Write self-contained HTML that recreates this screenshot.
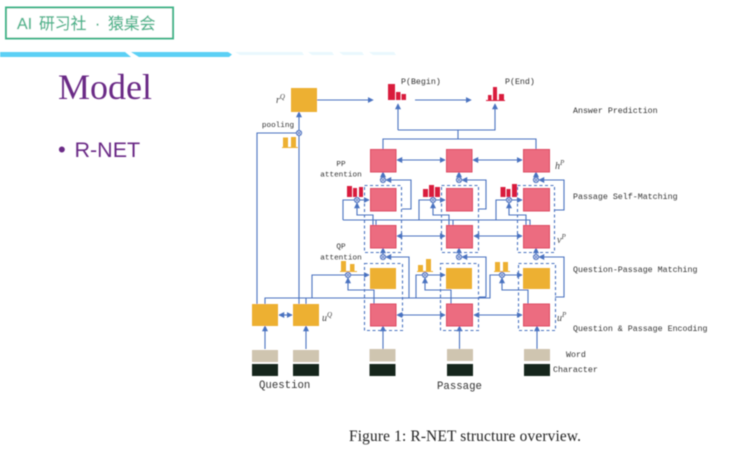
<!DOCTYPE html>
<html><head><meta charset="utf-8"><style>
html,body{margin:0;padding:0;background:#fff}
#p{position:relative;width:740px;height:451px;overflow:hidden;background:#fff}
svg{position:absolute;left:0;top:0}
</style></head><body><div id="p">
<svg width="740" height="451" viewBox="0 0 740 451" xmlns="http://www.w3.org/2000/svg">
<defs>
<marker id="a" viewBox="0 0 8 8" refX="7" refY="4" markerWidth="6" markerHeight="6" orient="auto-start-reverse" markerUnits="userSpaceOnUse"><path d="M0 0L8 4L0 8z" fill="#4a72c0"/></marker>
<filter id="b" filterUnits="userSpaceOnUse" x="0" y="0" width="740" height="451"><feGaussianBlur stdDeviation="0.4"/></filter>
<g id="c"><circle r="2.600" fill="#c6d2ee" stroke="#4a72c0" stroke-width="1"/><path d="M-1.700-1.700L1.700 1.700M-1.700 1.700L1.700-1.700" stroke="#4a72c0" stroke-width=".6"/></g>
</defs>
<g filter="url(#b)">
<!-- header -->
<rect x="6" y="7.500" width="167" height="31" fill="#fff" stroke="#3fb489" stroke-width="2"/>
<g font-family="'Liberation Sans','Noto Sans CJK SC',sans-serif" font-size="16" fill="#4cb58e" stroke="#4cb58e" stroke-width=".3">
<text x="17" y="29">AI</text>
</g>
<g font-family="'Liberation Sans','Noto Sans CJK SC',sans-serif" font-size="15.800" fill="#4cb58e" stroke="#4cb58e" stroke-width=".25">
<text x="39" y="29">研习社</text>
<text x="95" y="29">·</text>
<text x="108" y="29">猿桌会</text>
</g>
<polygon points="0,52 125,52 131,57 0,57" fill="#5bd0f5"/>
<polygon points="131,52 228,52 232,54.500 229,57 139,57" fill="#5bd0f5"/>
<polygon points="235,52 302,52 304,55 240,55" fill="#e9f8fd"/>
<polygon points="308,52 332,52 334,55 312,55" fill="#e9f8fd"/>
<polygon points="339,52 362,52 364,55 343,55" fill="#e9f8fd"/>
<polygon points="369,52 394,52 396,55 373,55" fill="#e9f8fd"/>
<text x="58" y="99" font-family="'Liberation Serif',serif" font-size="36" fill="#6b2a86">Model</text>
<text x="58" y="157" font-family="'Liberation Sans',sans-serif" font-size="22" fill="#6b2a86">•</text>
<text x="74.500" y="157" font-family="'Liberation Sans',sans-serif" font-size="21.500" fill="#6b2a86">R-NET</text>

<!-- connectors -->
<g fill="none" stroke="#4a72c0" stroke-width="1.100">
<path d="M317 100H373" marker-end="url(#a)"/>
<path d="M415 100H471" marker-end="url(#a)"/>
<path d="M398 130V104" marker-end="url(#a)"/>
<path d="M398 130H495V104" marker-end="url(#a)"/>
<path d="M458 130V139M383 149V139H536V149"/>
<path d="M299 304V112" marker-end="url(#a)"/>
<path d="M257 304V133H299"/>
<path d="M279 315H292" marker-start="url(#a)" marker-end="url(#a)"/>
<path d="M265 349V326" marker-end="url(#a)"/>
<path d="M306 349V326" marker-end="url(#a)"/>
<path d="M383 349V326" marker-end="url(#a)"/>
<path d="M459.500 349V326" marker-end="url(#a)"/>
<path d="M537 349V326" marker-end="url(#a)"/>
<!-- row arrows -->
<path d="M397 160H445" marker-start="url(#a)" marker-end="url(#a)"/>
<path d="M473 160H522" marker-start="url(#a)" marker-end="url(#a)"/>
<path d="M397 236H445" marker-start="url(#a)" marker-end="url(#a)"/>
<path d="M474 236H522" marker-start="url(#a)" marker-end="url(#a)"/>
<path d="M397 315H445" marker-start="url(#a)" marker-end="url(#a)"/>
<path d="M474 315H522" marker-start="url(#a)" marker-end="url(#a)"/>
<!-- vertical to circle -->
<path d="M383 178V172" marker-end="url(#a)"/><path d="M459 178V172" marker-end="url(#a)"/><path d="M536 178V172" marker-end="url(#a)"/>
<path d="M383 255V248" marker-end="url(#a)"/><path d="M459 255V248" marker-end="url(#a)"/><path d="M536 255V248" marker-end="url(#a)"/>
<!-- feedback upper -->
<path d="M402 209H411V180H386" marker-end="url(#a)"/>
<path d="M478 209H486V180H462" marker-end="url(#a)"/>
<path d="M555 210H564V180H539" marker-end="url(#a)"/>
<path d="M409 298V257H386" marker-end="url(#a)"/>
<path d="M402 298H409"/>
<path d="M486 297V257H462" marker-end="url(#a)"/>
<path d="M479 297H486"/>
<path d="M555 297H564V257H539" marker-end="url(#a)"/>
<!-- self-match rows -->
<path d="M343 220V200H369" marker-end="url(#a)"/>
<path d="M419 220V200H445" marker-end="url(#a)"/>
<path d="M496 220V200H522" marker-end="url(#a)"/>
<path d="M343 220H530V225M376 220V225M453 220V225"/>
<path d="M373 225V215H357V203" marker-end="url(#a)"/>
<path d="M449 225V215H433V203" marker-end="url(#a)"/>
<path d="M526 225V215H509V203" marker-end="url(#a)"/>
<!-- qp rows -->
<path d="M265 304V298H490V275H522" marker-end="url(#a)"/>
<path d="M306 304V298"/>
<path d="M312 298V275H369" marker-end="url(#a)"/>
<path d="M416 298V275H445" marker-end="url(#a)"/>
<path d="M374 304V290H348V278" marker-end="url(#a)"/>
<path d="M451 304V290H425V278" marker-end="url(#a)"/>
<path d="M528 304V290H502V278" marker-end="url(#a)"/>
</g>
<!-- dashed -->
<g fill="none" stroke="#4a72c0" stroke-width="1.100" stroke-dasharray="3 2.500">
<rect x="364.500" y="185.500" width="37" height="67"/>
<rect x="441.500" y="185.500" width="37" height="67"/>
<rect x="517.500" y="185.500" width="37" height="67"/>
<rect x="364.500" y="263.500" width="38" height="67"/>
<rect x="440.500" y="263.500" width="38" height="67"/>
<rect x="518.500" y="263.500" width="37" height="67"/>
</g>
<!-- yellow boxes -->
<g fill="#edb032">
<rect x="291" y="88" width="26" height="24"/>
<rect x="252" y="304" width="26" height="22"/>
<rect x="293" y="304" width="26" height="22"/>
<rect x="370" y="268" width="26" height="21"/>
<rect x="446" y="268" width="26" height="21"/>
<rect x="523" y="268" width="27" height="21"/>
</g>
<!-- pink boxes -->
<g fill="#ec6c80" stroke="#dd4a62" stroke-width="1">
<rect x="370.500" y="149.500" width="25.500" height="22.500"/>
<rect x="446.500" y="149.500" width="25.500" height="22.500"/>
<rect x="523.500" y="149.500" width="26" height="22.500"/>
<rect x="370.500" y="188.500" width="25.500" height="22.500"/>
<rect x="446.500" y="188.500" width="26" height="22.500"/>
<rect x="523.500" y="188.500" width="26" height="22.500"/>
<rect x="370.500" y="225.500" width="25.500" height="22.500"/>
<rect x="446.500" y="225.500" width="26" height="22.500"/>
<rect x="523.500" y="225.500" width="26" height="22.500"/>
<rect x="370.500" y="304" width="25.500" height="22"/>
<rect x="446.500" y="304" width="26" height="22"/>
<rect x="523.500" y="304" width="26" height="22"/>
</g>
<!-- word / char -->
<g fill="#cfc5b0">
<rect x="252" y="350" width="26" height="12"/><rect x="293" y="350" width="26" height="12"/>
<rect x="369.500" y="349" width="26" height="12.500"/><rect x="447" y="349" width="26" height="12"/><rect x="524" y="349" width="26" height="12"/>
</g>
<g fill="#16261f">
<rect x="252" y="364" width="26" height="12"/><rect x="293" y="364" width="26" height="12"/>
<rect x="369.500" y="364" width="26" height="12"/><rect x="447" y="364" width="26" height="12"/><rect x="524" y="364" width="26" height="12"/>
</g>
<!-- red bars -->
<g fill="#d91c3e">
<rect x="388" y="84" width="7" height="16"/><rect x="396" y="92" width="4.500" height="8"/><rect x="401.500" y="94" width="4.500" height="6"/>
<rect x="488" y="95" width="3.500" height="5"/><rect x="493" y="87" width="4" height="13"/><rect x="499" y="94" width="5" height="6"/>
<rect x="347" y="186" width="5" height="11"/><rect x="353" y="188" width="4" height="9"/><rect x="359" y="187" width="4" height="10"/>
<rect x="423" y="189" width="5" height="8"/><rect x="429" y="185" width="5" height="12"/><rect x="435" y="187" width="5" height="10"/>
<rect x="500.500" y="187" width="5" height="10"/><rect x="506.500" y="189" width="4" height="8"/><rect x="512" y="184" width="5" height="13"/>
</g>
<!-- yellow bars -->
<g fill="#edb032">
<rect x="283" y="137.500" width="5" height="10"/><rect x="291" y="137" width="5" height="10.500"/>
<rect x="341" y="261" width="5" height="10"/><rect x="350" y="264" width="4.500" height="7"/>
<rect x="418" y="265" width="5" height="6"/><rect x="426" y="259" width="5" height="12"/>
<rect x="495" y="262" width="5" height="9"/><rect x="503" y="262" width="5" height="9"/>
</g>
<g stroke="#edb032" stroke-width="1"><path d="M282 147.500H298M340 271.500H357M417 271.500H433M494 271.500H510"/></g>
<path d="M486 100.500H505" stroke="#d91c3e" stroke-width="1"/>
<!-- circles -->
<use href="#c" x="299" y="133"/>
<use href="#c" x="383" y="180"/><use href="#c" x="459" y="180"/><use href="#c" x="536" y="180"/>
<use href="#c" x="383" y="257"/><use href="#c" x="459" y="257"/><use href="#c" x="536" y="257"/>
<use href="#c" x="357" y="200"/><use href="#c" x="433" y="200"/><use href="#c" x="509" y="200"/>
<use href="#c" x="348" y="275"/><use href="#c" x="425" y="275"/><use href="#c" x="502" y="275"/>
<!-- labels -->
<g font-family="'Liberation Mono',monospace" font-size="8.300" fill="#333">
<text x="573" y="113">Answer Prediction</text>
<text x="573" y="199">Passage Self-Matching</text>
<text x="573" y="272">Question-Passage Matching</text>
<text x="573" y="331">Question &amp; Passage Encoding</text>
<text x="566" y="357">Word</text>
<text x="553" y="372">Character</text>
<text x="401" y="84">P(Begin)</text>
<text x="505" y="84">P(End)</text>
</g>
<g font-family="'Liberation Mono',monospace" font-size="7.700" fill="#333" text-anchor="middle">
<text x="278" y="127">pooling</text>
<text x="341" y="166">PP</text><text x="341" y="176.500">attention</text>
<text x="341" y="248.500">QP</text><text x="341" y="259.500">attention</text>
</g>
<g font-family="'Liberation Mono',monospace" font-size="10.700" fill="#333">
<text x="259" y="388">Question</text>
<text x="437" y="389">Passage</text>
</g>
<g font-family="'Liberation Serif',serif" font-style="italic" fill="#444" font-size="10">
<text x="276" y="103">r<tspan font-size="7" dy="-4">Q</tspan></text>
<text x="555" y="169">h<tspan font-size="7" dy="-4">P</tspan></text>
<text x="557" y="243">v<tspan font-size="7" dy="-4">P</tspan></text>
<text x="557" y="321">u<tspan font-size="7" dy="-4">P</tspan></text>
<text x="322" y="321">u<tspan font-size="7" dy="-4">Q</tspan></text>
</g>
<text x="349" y="441" font-family="'Liberation Serif',serif" font-size="15.300" fill="#222" textLength="232" lengthAdjust="spacing">Figure 1: R-NET structure overview.</text>
</g>
</svg>
</div></body></html>
